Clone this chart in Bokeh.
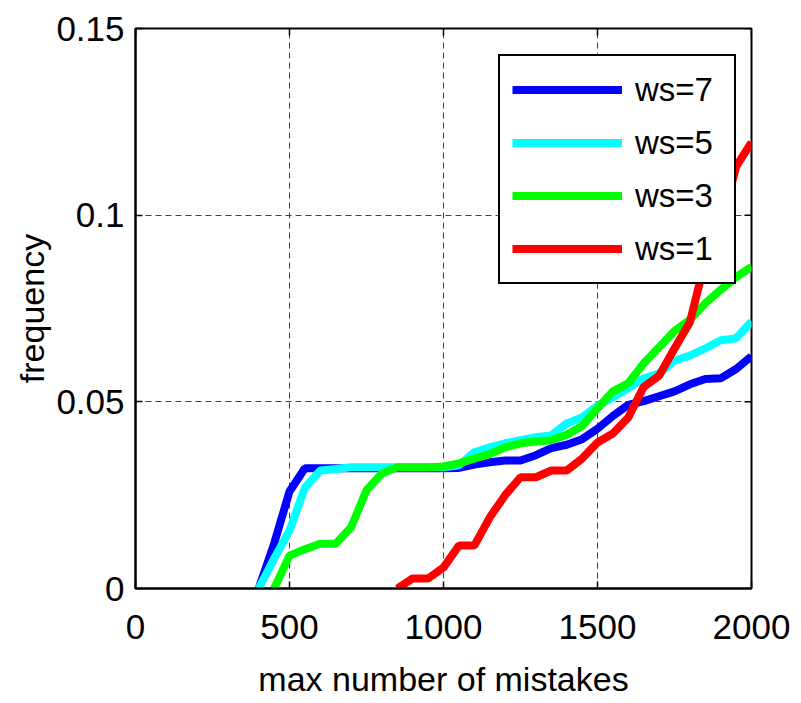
from bokeh.plotting import figure
from bokeh.models import Legend, LegendItem, FixedTicker, Range1d
from bokeh.embed import file_html
from bokeh.resources import INLINE

# ---- data ----
x_ws7 = [400, 450, 500, 550, 600, 650, 700, 750, 800, 850, 900, 950, 1000, 1050, 1100, 1150,
         1200, 1250, 1300, 1350, 1400, 1450, 1500, 1550, 1600, 1650, 1700, 1750, 1800, 1850,
         1900, 1950, 2000]
y_ws7 = [0.0, 0.012, 0.026, 0.0322, 0.0322, 0.0322, 0.0322, 0.0322, 0.0322, 0.0322, 0.0322,
         0.0322, 0.0322, 0.0323, 0.0332, 0.0338, 0.0343, 0.0343, 0.0357, 0.0376, 0.0385,
         0.0400, 0.0428, 0.0462, 0.0492, 0.0502, 0.0515, 0.0528, 0.0547, 0.0561, 0.0563,
         0.0588, 0.0622]

x_ws5 = [400, 450, 500, 550, 600, 650, 700, 750, 800, 850, 900, 950, 1000, 1050, 1100, 1150,
         1200, 1250, 1300, 1350, 1400, 1450, 1500, 1550, 1600, 1650, 1700, 1750, 1800, 1850,
         1900, 1950, 2000]
y_ws5 = [0.0, 0.008, 0.0155, 0.027, 0.0316, 0.032, 0.0325, 0.0325, 0.0325, 0.0325, 0.0325,
         0.0325, 0.0325, 0.033, 0.0365, 0.0378, 0.0389, 0.0397, 0.0405, 0.0410, 0.0442,
         0.0458, 0.0490, 0.0512, 0.0537, 0.0563, 0.0576, 0.0610, 0.0624, 0.0643, 0.0665,
         0.0670, 0.0715]

x_ws3 = [450, 500, 550, 600, 650, 700, 750, 800, 850, 900, 950, 1000, 1050, 1100, 1150, 1200,
         1250, 1300, 1350, 1400, 1450, 1500, 1550, 1600, 1650, 1700, 1750, 1800, 1850, 1900,
         1950, 2000]
y_ws3 = [0.0, 0.0088, 0.0105, 0.012, 0.012, 0.0164, 0.0263, 0.0308, 0.0325, 0.0325, 0.0325,
         0.0327, 0.0335, 0.0348, 0.0360, 0.0378, 0.0389, 0.0394, 0.0397, 0.0412, 0.0435,
         0.0483, 0.0528, 0.0550, 0.0603, 0.0646, 0.0690, 0.0720, 0.0764, 0.0800, 0.0834,
         0.0862]

x_ws1 = [850, 900, 950, 1000, 1050, 1100, 1150, 1200, 1250, 1300, 1350, 1400, 1450, 1500,
         1550, 1600, 1650, 1700, 1750, 1800, 1850, 1900, 1950, 2000]
y_ws1 = [0.0, 0.0027, 0.0027, 0.0056, 0.0115, 0.0115, 0.0190, 0.0250, 0.0298, 0.0298,
         0.0316, 0.0316, 0.0348, 0.0391, 0.0415, 0.0458, 0.0540, 0.0570, 0.0643, 0.0713,
         0.0880, 0.0970, 0.1130, 0.1195]

series_labels = ["ws=7", "ws=5", "ws=3", "ws=1"]
series_colors = ["#0000ff", "#00ffff", "#00ff00", "#ff0000"]

x_ticks = [0, 500, 1000, 1500, 2000]
y_ticks = [0, 0.05, 0.1, 0.15]
y_tick_labels = {0: "0", 0.05: "0.05", 0.1: "0.1", 0.15: "0.15"}

X_MIN, X_MAX = 0, 2000
Y_MIN, Y_MAX = 0, 0.15
FRAME_W, FRAME_H = 616, 560
TICK_PX = 7

FONT = "'Liberation Sans', Arial, sans-serif"

p = figure(frame_width=FRAME_W, frame_height=FRAME_H, output_backend="svg", toolbar_location=None,
           x_range=Range1d(X_MIN, X_MAX), y_range=Range1d(Y_MIN, Y_MAX),
           min_border_left=135, min_border_right=50, min_border_top=28, min_border_bottom=115)

p.background_fill_color = "white"
p.border_fill_color = "white"
p.outline_line_color = "black"
p.outline_line_width = 2

# grid
p.xgrid.ticker = FixedTicker(ticks=x_ticks)
p.ygrid.ticker = FixedTicker(ticks=y_ticks)
for g in (p.xgrid[0], p.ygrid[0]):
    g.grid_line_color = "#404040"
    g.grid_line_width = 1
    g.grid_line_dash = "6 4"

# inward ticks on the top and right sides of the box (MATLAB style)
dx = TICK_PX * (X_MAX - X_MIN) / FRAME_W
dy = TICK_PX * (Y_MAX - Y_MIN) / FRAME_H
p.segment(x0=x_ticks, y0=[Y_MAX] * len(x_ticks), x1=x_ticks, y1=[Y_MAX - dy] * len(x_ticks),
          line_color="black", line_width=1.5)
p.segment(x0=[X_MAX] * len(y_ticks), y0=y_ticks, x1=[X_MAX - dx] * len(y_ticks), y1=y_ticks,
          line_color="black", line_width=1.5)

renderers = []
for xs, ys, c in zip([x_ws7, x_ws5, x_ws3, x_ws1], [y_ws7, y_ws5, y_ws3, y_ws1], series_colors):
    r = p.line(xs, ys, line_color=c, line_width=8)
    renderers.append(r)

# axes
for ax in (p.xaxis[0], p.yaxis[0]):
    ax.axis_line_color = "black"
    ax.axis_line_width = 2
    ax.major_tick_in = TICK_PX
    ax.major_tick_out = 0
    ax.major_tick_line_width = 1.5
    ax.minor_tick_line_color = None
    ax.major_label_text_font = FONT
    ax.major_label_text_font_size = "35px"
    ax.major_label_text_color = "black"
    ax.axis_label_text_font = FONT
    ax.axis_label_text_font_size = "34px"
    ax.axis_label_text_font_style = "normal"
    ax.axis_label_text_color = "black"

p.xaxis[0].ticker = FixedTicker(ticks=x_ticks)
p.yaxis[0].ticker = FixedTicker(ticks=y_ticks)
p.yaxis[0].major_label_overrides = y_tick_labels
p.xaxis[0].axis_label = "max number of mistakes"
p.yaxis[0].axis_label = "frequency"
p.xaxis[0].major_label_standoff = 26
p.xaxis[0].axis_label_standoff = 18
p.yaxis[0].major_label_standoff = 11
p.yaxis[0].axis_label_standoff = 2

legend = Legend(items=[LegendItem(label=l, renderers=[r]) for l, r in zip(series_labels, renderers)],
                location=(363, 304), orientation="vertical",
                label_text_font=FONT, label_text_font_size="33px", label_text_color="black",
                glyph_width=110, glyph_height=43, label_height=43, label_width=87,
                label_standoff=13, spacing=10, padding=12, margin=0,
                border_line_color="black", border_line_width=2, border_line_alpha=1.0,
                background_fill_color="white", background_fill_alpha=1.0)
p.add_layout(legend, "center")

open("out.html", "w").write(file_html(p, INLINE))
